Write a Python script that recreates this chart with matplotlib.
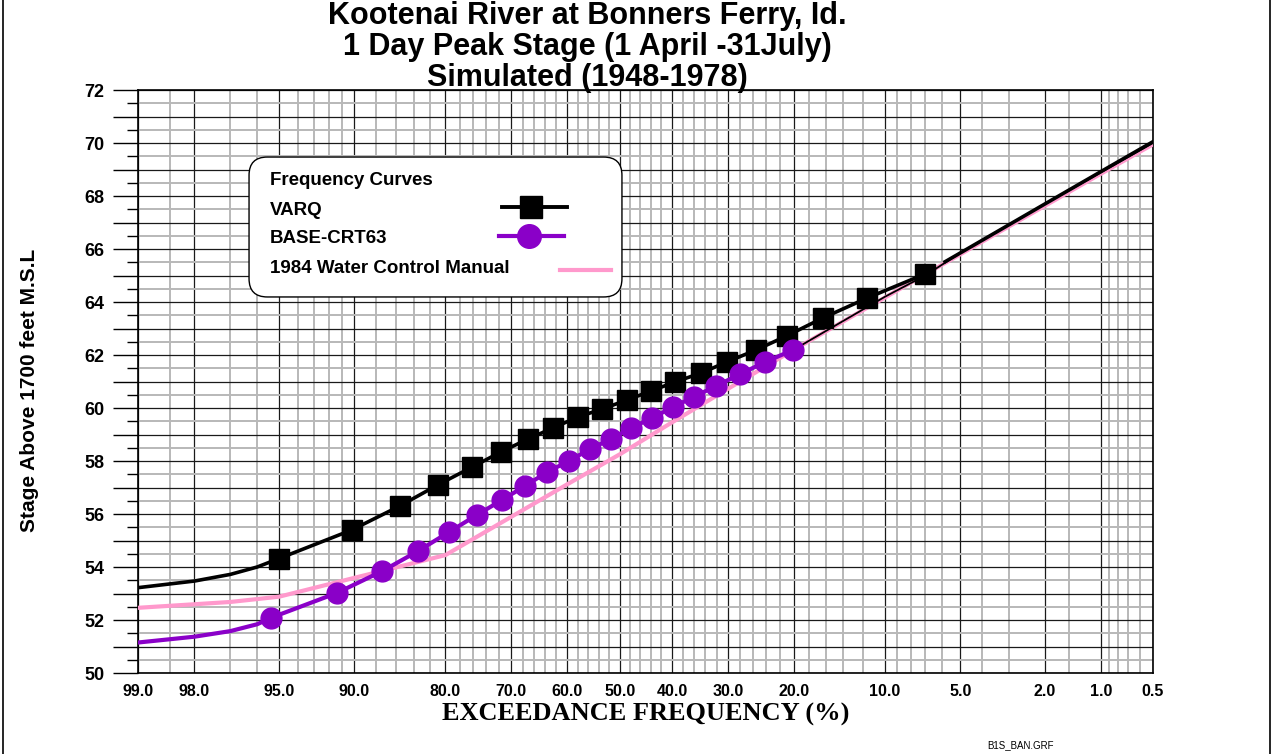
import numpy as np
import matplotlib
matplotlib.use("Agg")
import matplotlib.pyplot as plt
from matplotlib.lines import Line2D
from matplotlib.patches import FancyBboxPatch
from matplotlib.ticker import FixedLocator, MultipleLocator, FuncFormatter
from statistics import NormalDist

# ---------------- data ----------------
varq_p = [99, 98, 97, 96, 95.0, 90.2, 85.6, 81.0, 76.2, 71.7, 67.1, 62.6, 58.0,
          53.4, 48.6, 44.0, 39.5, 34.7, 30.2, 25.5, 21.0, 16.3, 11.6, 7.0]
varq_stage = [53.22, 53.47, 53.72, 54.0, 54.32, 55.40, 56.30, 57.10, 57.77, 58.34,
              58.83, 59.25, 59.66, 59.96, 60.30, 60.64, 60.98, 61.32, 61.74,
              62.19, 62.72, 63.40, 64.15, 65.06]
varq_first_marker = 4

varq_ext_p = [5.8, 5.0, 2.0, 1.0, 0.5]
varq_ext_stage = [65.52, 65.85, 67.70, 68.93, 70.05]

base_p = [99, 98, 97, 96, 95.4, 91.4, 87.4, 83.5, 79.5, 75.5, 71.5, 67.6, 63.7,
          59.7, 55.7, 51.7, 47.8, 43.8, 39.8, 36.0, 32.1, 28.0, 24.1, 20.1]
base_stage = [51.15, 51.37, 51.58, 51.84, 52.08, 53.02, 53.85, 54.60, 55.32,
              55.96, 56.53, 57.06, 57.58, 58.00, 58.45, 58.83, 59.25, 59.62,
              60.04, 60.42, 60.83, 61.28, 61.74, 62.19]
base_first_marker = 4

base_ext_p = [20.1, 10.0, 7.0, 5.0, 2.0, 1.0, 0.5]
base_ext_stage = [62.19, 64.20, 65.00, 65.85, 67.70, 68.90, 70.00]

wcm_p = [99, 97, 95, 90, 80, 70, 60, 50, 40, 30, 20, 10, 5, 2, 1, 0.5]
wcm_stage = [52.46, 52.68, 52.88, 53.59, 54.45, 55.89, 57.12, 58.25, 59.46,
             60.73, 62.20, 64.17, 65.80, 67.63, 68.85, 69.95]

major_p = [99, 98, 95, 90, 80, 70, 60, 50, 40, 30, 20, 10, 5, 2, 1, 0.5]
major_labels = ["99.0", "98.0", "95.0", "90.0", "80.0", "70.0", "60.0", "50.0",
                "40.0", "30.0", "20.0", "10.0", "5.0", "2.0", "1.0", "0.5"]
minor_p = [98.5, 97, 96, 94, 93, 92, 91, 88, 86, 84, 82, 78, 76, 74, 72,
           68, 66, 64, 62, 58, 56, 54, 52, 48, 46, 44, 42, 38, 36, 34, 32,
           28, 26, 24, 22, 18, 16, 14, 12, 9, 8, 7, 6, 4, 3, 1.5,
           0.9, 0.8, 0.7, 0.6]

y_min, y_max = 50, 72

legend_title = "Frequency Curves"
legend_labels = ["VARQ", "BASE-CRT63", "1984 Water Control Manual"]
title_lines = "Kootenai River at Bonners Ferry, Id.\n1 Day Peak Stage (1 April -31July)\nSimulated (1948-1978)"

# ---------------- probability scale ----------------
_nd = NormalDist()
_ppf = np.vectorize(_nd.inv_cdf, otypes=[float])
_cdf = np.vectorize(_nd.cdf, otypes=[float])


def fwd(p):
    p = np.clip(np.asarray(p, dtype=float) / 100.0, 1e-9, 1 - 1e-9)
    return _ppf(p)


def inv(z):
    return _cdf(np.asarray(z, dtype=float)) * 100.0


BLACK = "#000000"
PURPLE = "#8a00c8"
PINK = "#ff99cc"

fig = plt.figure(figsize=(12.75, 7.54), dpi=100)
ax = fig.add_axes([138 / 1275, 1 - 673 / 754, (1153 - 138) / 1275, (673 - 90) / 754])
ax.set_xscale("function", functions=(fwd, inv))
ax.set_xlim(99, 0.5)
ax.set_ylim(y_min, y_max)

ax.xaxis.set_major_locator(FixedLocator(major_p))
ax.xaxis.set_minor_locator(FixedLocator(minor_p))
ax.set_xticklabels(major_labels)
ax.xaxis.set_minor_formatter(FuncFormatter(lambda v, pos: ""))
ax.yaxis.set_major_locator(MultipleLocator(1))
ax.yaxis.set_minor_locator(MultipleLocator(0.5))
ax.yaxis.set_major_formatter(FuncFormatter(lambda v, pos: f"{int(round(v))}" if int(round(v)) % 2 == 0 else ""))

ax.grid(which="major", color="#1a1a1a", linewidth=0.9, zorder=0)
ax.grid(which="minor", color="#b8b8b8", linewidth=1.4, zorder=0)
ax.set_axisbelow(True)

ax.tick_params(axis="x", which="both", length=0, pad=8)
ax.tick_params(axis="y", which="major", length=18, width=1.0, pad=6)
ax.tick_params(axis="y", which="minor", length=8, width=1.0)
for lab in ax.get_xticklabels():
    lab.set_fontfamily("Liberation Sans")
    lab.set_fontweight("bold")
    lab.set_fontsize(11.5)
for lab in ax.get_yticklabels():
    lab.set_fontfamily("Liberation Sans")
    lab.set_fontweight("bold")
    lab.set_fontsize(13)
for s in ax.spines.values():
    s.set_linewidth(1.2)

# pink WCM
ax.plot(wcm_p, wcm_stage, color=PINK, lw=3.0, solid_capstyle="round", zorder=3)
# thin black extension
ax.plot(base_ext_p, base_ext_stage, color=BLACK, lw=1.3, zorder=4)
# VARQ
ax.plot(varq_p, varq_stage, color=BLACK, lw=2.6, marker="s", ms=14,
        markevery=list(range(varq_first_marker, len(varq_p))), zorder=5)
ax.plot(varq_ext_p, varq_ext_stage, color=BLACK, lw=2.6, zorder=5)
# BASE-CRT63
ax.plot(base_p, base_stage, color=PURPLE, lw=3.0, marker="o", ms=15,
        markevery=list(range(base_first_marker, len(base_p))), zorder=6)

# legend box
box = FancyBboxPatch((0.1094, 0.645), 0.4768 - 0.1094, 0.885 - 0.645,
                     boxstyle="round,pad=0,rounding_size=0.018",
                     transform=ax.transAxes, facecolor="white", edgecolor="black",
                     linewidth=1.0, zorder=8, mutation_aspect=1015 / 583)
ax.add_patch(box)
tkw = dict(transform=ax.transAxes, fontfamily="Liberation Sans", fontweight="bold",
           fontsize=13.5, va="center", ha="left", zorder=9)
ax.text(0.130, 0.844, legend_title, **tkw)
ax.text(0.130, 0.794, legend_labels[0], **tkw)
ax.text(0.130, 0.746, legend_labels[1], **tkw)
ax.text(0.130, 0.693, legend_labels[2], **tkw)
ax.add_line(Line2D([0.3586, 0.4227], [0.799, 0.799], transform=ax.transAxes,
                   color=BLACK, lw=2.8, zorder=9))
ax.add_line(Line2D([0.387], [0.799], transform=ax.transAxes, color=BLACK,
                   marker="s", ms=16, zorder=10))
ax.add_line(Line2D([0.356, 0.420], [0.7496, 0.7496], transform=ax.transAxes,
                   color=PURPLE, lw=3.0, zorder=9))
ax.add_line(Line2D([0.385], [0.7496], transform=ax.transAxes, color=PURPLE,
                   marker="o", ms=17, zorder=10))
ax.add_line(Line2D([0.4158, 0.466], [0.691, 0.691], transform=ax.transAxes,
                   color=PINK, lw=3.0, zorder=9))

# titles and labels
fig.text(587 / 1275, 1 - 47 / 754, title_lines, ha="center", va="center",
         fontfamily="Liberation Sans", fontweight="bold", fontsize=22,
         linespacing=1.04)
fig.text(646 / 1275, 1 - 714 / 754, "EXCEEDANCE FREQUENCY (%)", ha="center",
         va="center", fontfamily="Liberation Serif", fontweight="bold", fontsize=19)
fig.text(30 / 1275, 1 - 390 / 754, "Stage Above 1700 feet M.S.L", rotation=90,
         ha="center", va="center", fontfamily=["Liberation Sans Narrow", "Liberation Sans"],
         fontweight="bold", fontsize=15)
fig.text(1020 / 1275, 1 - 745 / 754, "B1S_BAN.GRF", ha="center", va="center",
         fontfamily="Liberation Sans", fontsize=7)

# page frame lines
fig.add_artist(Line2D([3 / 1275, 3 / 1275], [0, 1], transform=fig.transFigure,
                      color="black", lw=1.2))
fig.add_artist(Line2D([1270 / 1275, 1270 / 1275], [0, 1], transform=fig.transFigure,
                      color="black", lw=1.2))

fig.savefig("out.png", dpi=100)
